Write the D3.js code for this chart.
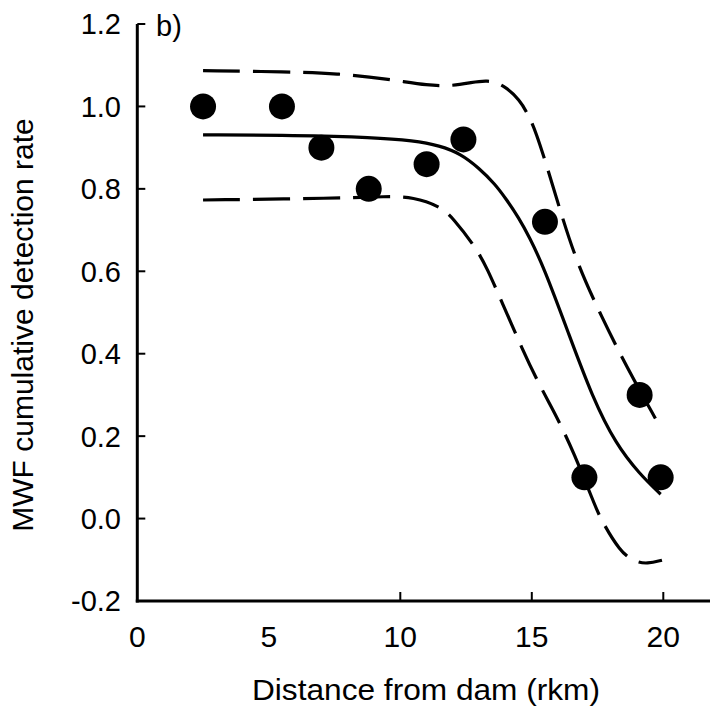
<!DOCTYPE html>
<html>
<head>
<meta charset="utf-8">
<script src="https://cdn.jsdelivr.net/npm/d3@7/dist/d3.min.js"></script>
<style>
  html, body { margin: 0; padding: 0; background: #fff; }
  svg { display: block; }
  text { font-family: "Liberation Sans", Arial, Helvetica, sans-serif; fill: #000; }
</style>
</head>
<body>
<svg id="chart" width="710" height="719"></svg>
<script>
// Observed cumulative detection rate by distance from the dam (rkm)
const distance = [2.5, 5.5, 7.0, 8.8, 11.0, 12.4, 15.5, 17.0, 19.1, 19.9];
const detection = [1.00, 1.00, 0.90, 0.80, 0.86, 0.92, 0.72, 0.10, 0.30, 0.10];

// Fitted curve and its confidence limits, as [distance, rate] pairs
const fitCurve = [
  [2.5, 0.931], [6.0, 0.930], [9.0, 0.925], [10.5, 0.917], [11.5, 0.905],
  [12.3, 0.885], [13.0, 0.850], [13.6, 0.812], [14.05, 0.773], [14.5, 0.730],
  [14.9, 0.684], [15.45, 0.611], [16.4, 0.449], [17.3, 0.295], [18.2, 0.180],
  [19.1, 0.108], [19.9, 0.059]
];
const upperLimit = [
  [2.5, 1.087], [5.7, 1.084], [7.6, 1.080], [9.5, 1.067], [11.1, 1.050],
  [12.0, 1.050], [12.7, 1.058], [13.3, 1.064], [13.9, 1.054], [14.55, 1.016],
  [14.9, 0.975], [15.15, 0.939], [15.6, 0.850], [16.15, 0.732], [16.75, 0.615],
  [17.65, 0.490], [18.6, 0.368], [19.7, 0.243]
];
const lowerLimit = [
  [2.5, 0.773], [7.6, 0.777], [9.5, 0.782], [10.5, 0.780], [11.5, 0.758],
  [12.0, 0.730], [12.9, 0.655], [13.3, 0.607], [13.86, 0.526], [14.68, 0.405],
  [15.2, 0.336], [15.7, 0.276], [16.0, 0.240], [16.6, 0.160], [17.35, 0.040],
  [17.6, 0.001], [18.35, -0.080], [18.9, -0.105], [19.4, -0.110], [19.95, -0.101]
];

const xTickValues = [0, 5, 10, 15, 20];
const xTickMarks = [10, 15, 20];
const yTickValues = [-0.2, 0.0, 0.2, 0.4, 0.6, 0.8, 1.0, 1.2];

const panelLabel = "b)";
const xTitle = "Distance from dam (rkm)";
const yTitle = "MWF cumulative detection rate";

const svg = d3.select("#chart");

const x = d3.scaleLinear().domain([0, 22]).range([137.3, 137.3 + 26.3 * 22]);
const y = d3.scaleLinear().domain([-0.2, 1.2]).range([601, 24]);

const [x0] = x.range();
const [yBottom, yTop] = y.range();

// Axis lines
svg.append("line")
  .attr("x1", x0).attr("x2", x0)
  .attr("y1", yTop).attr("y2", yBottom + 1.5)
  .attr("stroke", "#000").attr("stroke-width", 3);
svg.append("line")
  .attr("x1", x0 - 1.5).attr("x2", 712)
  .attr("y1", yBottom).attr("y2", yBottom)
  .attr("stroke", "#000").attr("stroke-width", 3);

// Y ticks (pointing inward) and labels
svg.append("g").selectAll("line")
  .data(yTickValues.filter(v => v > -0.2))
  .join("line")
  .attr("x1", x0).attr("x2", x0 + 8)
  .attr("y1", d => y(d)).attr("y2", d => y(d))
  .attr("stroke", "#000").attr("stroke-width", 2);

svg.append("g").selectAll("text")
  .data(yTickValues)
  .join("text")
  .attr("x", 121)
  .attr("y", d => y(d))
  .attr("dy", "0.36em")
  .attr("text-anchor", "end")
  .attr("font-size", 29)
  .text(d => d3.format(".1f")(d).replace("−", "-"));

// X ticks (pointing inward) and labels
svg.append("g").selectAll("line")
  .data(xTickMarks)
  .join("line")
  .attr("x1", d => x(d)).attr("x2", d => x(d))
  .attr("y1", yBottom).attr("y2", yBottom - 9)
  .attr("stroke", "#000").attr("stroke-width", 2);

svg.append("g").selectAll("text")
  .data(xTickValues)
  .join("text")
  .attr("x", d => x(d))
  .attr("y", 647)
  .attr("text-anchor", "middle")
  .attr("font-size", 30)
  .text(d => d);

// Axis titles
svg.append("text")
  .attr("x", 426).attr("y", 700)
  .attr("text-anchor", "middle")
  .attr("font-size", 30)
  .attr("textLength", 348)
  .attr("lengthAdjust", "spacingAndGlyphs")
  .text(xTitle);

svg.append("text")
  .attr("transform", "translate(33,325) rotate(-90)")
  .attr("text-anchor", "middle")
  .attr("font-size", 30)
  .text(yTitle);

// Panel label
svg.append("text")
  .attr("x", 156).attr("y", 36)
  .attr("font-size", 29)
  .text(panelLabel);

// Fitted curve and confidence limits, smoothed through the sampled values
const line = d3.line()
  .x(d => x(d[0]))
  .y(d => y(d[1]))
  .curve(d3.curveBasis);

const plot = svg.append("g");

[upperLimit, lowerLimit].forEach(band => {
  plot.append("path")
    .attr("d", line(band))
    .attr("fill", "none")
    .attr("stroke", "#000")
    .attr("stroke-width", 3.2)
    .attr("stroke-dasharray", "37 13");
});

plot.append("path")
  .attr("d", line(fitCurve))
  .attr("fill", "none")
  .attr("stroke", "#000")
  .attr("stroke-width", 3.2);

// Observed points
plot.append("g").selectAll("circle")
  .data(distance.map((d, i) => [d, detection[i]]))
  .join("circle")
  .attr("cx", d => x(d[0]))
  .attr("cy", d => y(d[1]))
  .attr("r", 13)
  .attr("fill", "#000");
</script>
</body>
</html>
